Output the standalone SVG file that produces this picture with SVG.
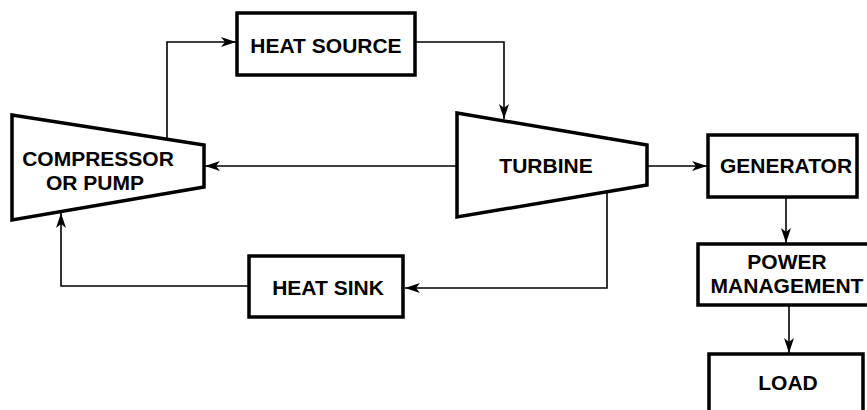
<svg xmlns="http://www.w3.org/2000/svg" width="867" height="410" viewBox="0 0 867 410">
<style>
.box{fill:#fff;stroke:#000;stroke-width:3.5}
.ln{fill:none;stroke:#000;stroke-width:1.6}
text{font-family:"Liberation Sans",Arial,Helvetica,sans-serif;font-weight:bold;font-size:21px;fill:#000;text-anchor:middle}
</style>
<defs>
<marker id="ah" markerUnits="userSpaceOnUse" markerWidth="16" markerHeight="12" refX="15" refY="6" orient="auto">
<path d="M0,1 L15,6 L0,11 L4,6 z" fill="#000"/>
</marker>
</defs>
<rect width="867" height="410" fill="#fff"/>
<g id="connectors">
<polyline class="ln" points="167,139 167,42 236,42" marker-end="url(#ah)"/>
<polyline class="ln" points="415,42 504,42 504,119" marker-end="url(#ah)"/>
<line class="ln" x1="457" y1="166" x2="205" y2="166" marker-end="url(#ah)"/>
<line class="ln" x1="647" y1="166" x2="707" y2="166" marker-end="url(#ah)"/>
<polyline class="ln" points="607,192 607,288 405,288" marker-end="url(#ah)"/>
<polyline class="ln" points="249,286 61,286 61,213" marker-end="url(#ah)"/>
<line class="ln" x1="786" y1="197" x2="786" y2="243" marker-end="url(#ah)"/>
<line class="ln" x1="789" y1="305" x2="789" y2="353" marker-end="url(#ah)"/>
</g>
<g id="heat-source">
<rect class="box" x="237" y="13" width="178" height="62"/>
<text x="326" y="53">HEAT SOURCE</text>
</g>
<g id="compressor">
<polygon class="box" points="12,115 204,145 204,187 12,220"/>
<text x="98" y="166">COMPRESSOR</text>
<text x="95" y="190">OR PUMP</text>
</g>
<g id="turbine">
<polygon class="box" points="457,113 647,145 647,185 457,217"/>
<text x="546" y="173">TURBINE</text>
</g>
<g id="generator">
<rect class="box" x="708" y="135" width="149" height="62"/>
<text x="786" y="173">GENERATOR</text>
</g>
<g id="heat-sink">
<rect class="box" x="249" y="256" width="154" height="61"/>
<text x="328" y="295">HEAT SINK</text>
</g>
<g id="power-management">
<rect class="box" x="698" y="244" width="180" height="61"/>
<text x="787" y="269">POWER</text>
<text x="787" y="293">MANAGEMENT</text>
</g>
<g id="load">
<rect class="box" x="709" y="354" width="154" height="70"/>
<text x="788" y="390">LOAD</text>
</g>
</svg>
